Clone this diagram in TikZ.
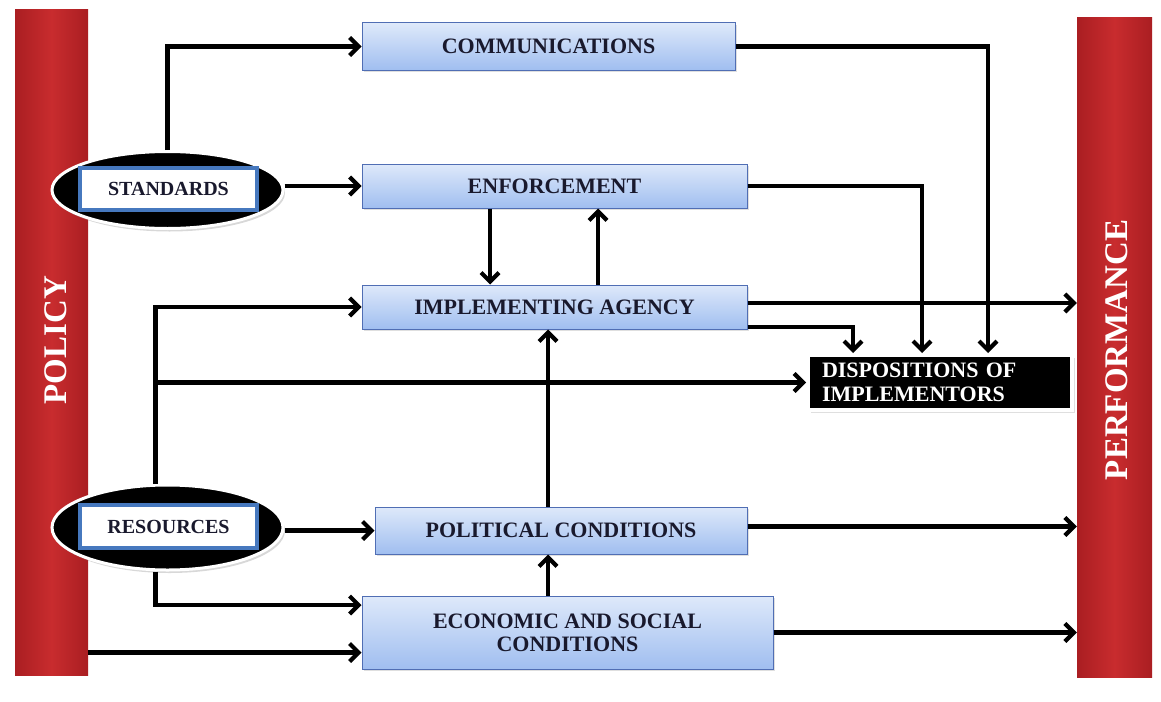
\documentclass[tikz,border=0pt]{standalone}
\usepackage{fontspec}
\setmainfont{Liberation Serif}
\usetikzlibrary{arrows.meta,shapes.geometric,shadows,calc}
\definecolor{barred}{RGB}{200,44,46}
\definecolor{bardark}{RGB}{170,30,34}
\definecolor{boxtop}{RGB}{222,233,250}
\definecolor{boxbot}{RGB}{160,190,240}
\definecolor{boxedge}{RGB}{80,110,180}
\definecolor{innerblue}{RGB}{70,120,190}
\definecolor{txt}{RGB}{25,25,45}
\tikzset{
  bar/.style={draw=none, left color=bardark, right color=bardark, middle color=barred, shading angle=90},
  flowbox/.style={draw=boxedge, line width=1pt, top color=boxtop, bottom color=boxbot,
    font=\fontsize{22}{23}\selectfont\bfseries, text=txt, align=center, inner sep=2pt,
    drop shadow={opacity=0.25, shadow xshift=2pt, shadow yshift=-2pt}},
  oval/.style={ellipse, draw=white, line width=3pt, fill=black,
    drop shadow={opacity=0.3, shadow xshift=2pt, shadow yshift=-3pt}},
  tag/.style={draw=innerblue, line width=4pt, fill=white, font=\fontsize{20}{20}\selectfont\bfseries, text=txt},
  darkbox/.style={draw=white, line width=4pt, fill=black, text=white, align=left,
    font=\fontsize{22}{24}\selectfont\bfseries,
    drop shadow={opacity=0.25, shadow xshift=3pt, shadow yshift=-3pt}},
  arr/.style={line width=4.2pt, -{Straight Barb[length=9pt,width=18pt]}},
  bartext/.style={text=white, font=\fontsize{33}{33}\selectfont\bfseries}
}
\begin{document}
\begin{tikzpicture}[x=1pt,y=-1pt]
\useasboundingbox (0,0) rectangle (1161,701);
\fill[white] (0,0) rectangle (1161,701);

% side bars
\node[bar, minimum width=73pt, minimum height=665pt, inner sep=0] (policy) at (51.5,342.5) {};
\node[bartext, rotate=90] (policytxt) at (56,340) {POLICY};
\node[bar, minimum width=75pt, minimum height=659pt, inner sep=0] (perf) at (1114.5,347.5) {};
\node[bartext, rotate=90] (perftxt) at (1117,350) {PERFORMANCE};

% boxes
\node[flowbox, minimum width=373pt, minimum height=47pt] (comm) at (548.5,46.5) {COMMUNICATIONS};
\node[flowbox, minimum width=385pt, minimum height=44pt] (enf) at (554.5,186) {ENFORCEMENT};
\node[flowbox, minimum width=385pt, minimum height=44pt] (impl) at (554.5,307) {IMPLEMENTING AGENCY};
\node[flowbox, minimum width=372pt, minimum height=47pt] (pol) at (561,530.5) {POLITICAL CONDITIONS};
\node[flowbox, minimum width=411pt, minimum height=73pt] (eco) at (567.5,632.5) {ECONOMIC AND SOCIAL\\CONDITIONS};
\node[darkbox, minimum width=264pt, minimum height=55pt, text width=236pt, inner xsep=14pt] (disp) at (940,382.5) {DISPOSITIONS OF\\IMPLEMENTORS};

% ellipses
\node[oval, minimum width=231pt, minimum height=77pt] (std) at (167.5,190) {};
\node[tag, minimum width=177pt, minimum height=42pt] (stdt) at (168.5,189) {STANDARDS};
\node[oval, minimum width=231pt, minimum height=85pt] (res) at (167.5,527.5) {};
\node[tag, minimum width=177pt, minimum height=43pt] (rest) at (168.5,526.5) {RESOURCES};

% connectors
\coordinate (rn) at ([xshift=-12pt]res.north);
\coordinate (rs) at ([xshift=-12pt]res.south);

\draw[arr] (std.north) |- (comm.west);
\draw[arr] (std.east |- enf.west) -- (enf.west);
\draw[arr] (comm.east) -| ([xshift=48pt]disp.north);
\draw[arr] (enf.east) -| ([xshift=-18pt]disp.north);
\draw[arr] ([xshift=-64.5pt]enf.south) -- ([xshift=-64.5pt]impl.north);
\draw[arr] ([xshift=43.5pt]impl.north) -- ([xshift=43.5pt]enf.south);
\draw[arr] ([yshift=4pt]impl.east) -- ([yshift=4pt]impl.east -| perf.west);
\draw[arr] ([yshift=-20pt]impl.east) -| ([xshift=-87pt]disp.north);
\draw[arr] (rn) |- (impl.west);
\draw[arr] (rn) |- (disp.west);
\draw[arr] (res.east |- pol.west) -- (pol.west);
\draw[arr] (rs) |- ([yshift=27.5pt]eco.west);
\coordinate (ecolow) at ([yshift=-20pt]eco.west);
\draw[arr] (policy.east |- ecolow) -- (ecolow);
\draw[arr] ([xshift=-13pt]pol.north) -- ([xshift=-13pt]pol.north |- impl.south);
\draw[arr] ([xshift=-19.5pt]eco.north) -- ([xshift=-19.5pt]eco.north |- pol.south);
\draw[arr] ([yshift=4pt]pol.east) -- ([yshift=4pt]pol.east -| perf.west);
\draw[arr] (eco.east) -- (eco.east -| perf.west);
\end{tikzpicture}
\end{document}
